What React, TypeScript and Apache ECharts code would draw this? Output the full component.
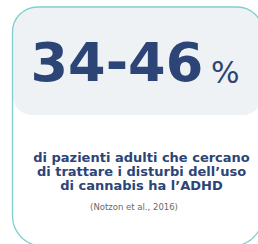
import React, { useEffect, useRef } from "react";
import * as echarts from "echarts";

const rangeLow = [34];
const rangeHigh = [46];
const unitLabel = ["%"];
const captionLines = [
  "di pazienti adulti che cercano",
  "di trattare i disturbi dell\u2019uso",
  "di cannabis ha l\u2019ADHD",
];
const sourceLabel = ["(Notzon et al., 2016)"];

const NAVY = "#2d4476";
const TEAL = "#7fcfcf";
const PANEL = "#eef2f4";

export default function App() {
  const ref = useRef<HTMLDivElement>(null);
  useEffect(() => {
    if (!ref.current) return;
    const chart = echarts.init(ref.current, undefined, { renderer: "svg" });
    chart.setOption({
      animation: false,
      backgroundColor: "#ffffff",
      graphic: [
        {
          type: "rect",
          shape: { x: 12.5, y: 7, width: 250, height: 108, r: [25, 25, 20, 20] },
          style: { fill: PANEL },
          z: 1,
        },
        {
          type: "rect",
          shape: { x: 12.5, y: 7, width: 250, height: 239, r: [25, 25, 30, 30] },
          style: { fill: "none", stroke: TEAL, lineWidth: 1.3 },
          z: 2,
        },
        {
          type: "text",
          x: 30.5,
          y: 62,
          style: {
            text: `${rangeLow[0]}-${rangeHigh[0]}`,
            fill: NAVY,
            font: "bold 54px 'DejaVu Sans'",
            textAlign: "left",
            textVerticalAlign: "middle",
          },
          z: 3,
        },
        {
          type: "text",
          x: 211,
          y: 72,
          style: {
            text: unitLabel[0],
            fill: NAVY,
            font: "normal 30px 'DejaVu Sans'",
            textAlign: "left",
            textVerticalAlign: "middle",
          },
          z: 3,
        },
        {
          type: "text",
          x: 141.5,
          y: 171,
          style: {
            text: captionLines.join("\n"),
            fill: NAVY,
            font: "bold 13px 'DejaVu Sans'",
            lineHeight: 14,
            textAlign: "center",
            textVerticalAlign: "middle",
          },
          z: 3,
        },
        {
          type: "text",
          x: 134,
          y: 207,
          style: {
            text: sourceLabel[0],
            fill: "#6a6a6a",
            font: "normal 8.5px 'DejaVu Sans'",
            textAlign: "center",
            textVerticalAlign: "middle",
          },
          z: 3,
        },
      ],
    });
    return () => chart.dispose();
  }, []);
  return (
    <div
      ref={ref}
      style={{ position: "fixed", left: 0, top: 0, width: 258, height: 244 }}
    />
  );
}
